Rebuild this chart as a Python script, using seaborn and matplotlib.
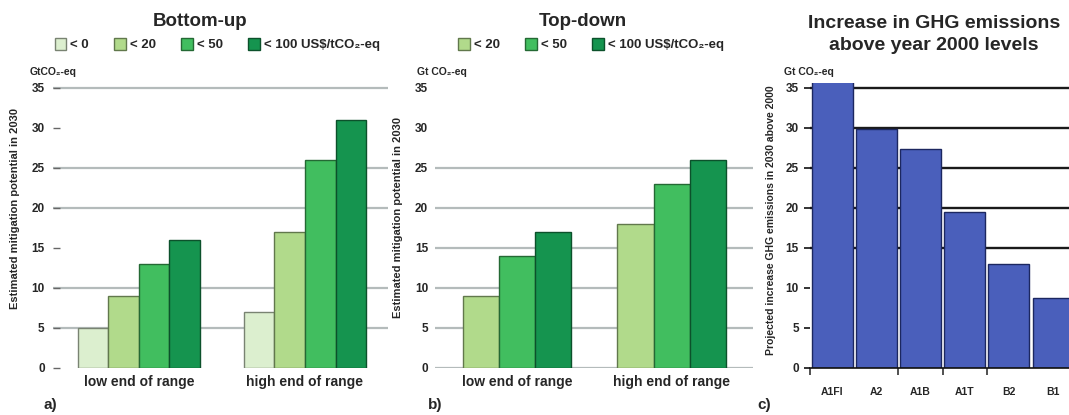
import numpy as np
import pandas as pd
import matplotlib
matplotlib.use("Agg")
import matplotlib.pyplot as plt
import matplotlib.colors as mcolors
from matplotlib.patches import Patch
import seaborn as sns

# ---------------- data ----------------
ranges = ["low end of range", "high end of range"]

bu_costs = ["< 0", "< 20", "< 50", "< 100 US$/tCO₂-eq"]
bu_low = [5, 9, 13, 16]
bu_high = [7, 17, 26, 31]

td_costs = ["< 20", "< 50", "< 100 US$/tCO₂-eq"]
td_low = [9, 14, 17]
td_high = [18, 23, 26]

scenarios = ["A1FI", "A2", "A1B", "A1T", "B2", "B1"]
increase = [36, 29.9, 27.3, 19.5, 13.0, 8.8]

yticks = [0, 5, 10, 15, 20, 25, 30, 35]

cost_colors = {"< 0": "#dcefcf", "< 20": "#b1da8b",
               "< 50": "#41be5f", "< 100 US$/tCO₂-eq": "#15944f"}
blue = "#4a5fbb"

# ---------------- style ----------------
sns.set_style("white")
plt.rcParams["font.family"] = ["Liberation Sans", "DejaVu Sans"]
plt.rcParams["font.weight"] = "bold"

W, H = 1069, 415
fig = plt.figure(figsize=(W / 100, H / 100), dpi=100)


def ax_at(x0, x1, ytop=83, ybot=368):
    return fig.add_axes([x0 / W, 1 - ybot / H, (x1 - x0) / W, (ybot - ytop) / H])


def px(x, y, s, **kw):
    fig.text(x / W, 1 - y / H, s, **kw)


def darken(c, f=0.6):
    r, g, b, a = mcolors.to_rgba(c)
    return (r * f, g * f, b * f, 1)


def style_green(ax, hide_grid):
    ax.set_ylim(0, 35.6)
    ax.set_yticks(yticks)
    ax.set_axisbelow(True)
    ax.yaxis.grid(True, color="#b4bbbb", linewidth=1.6)
    ax.xaxis.grid(False)
    for v in hide_grid:
        ax.get_ygridlines()[yticks.index(v)].set_visible(False)
    for s in ax.spines.values():
        s.set_visible(False)
    ax.tick_params(axis="y", length=5, width=1, color="#666666", pad=6,
                   labelsize=8.5, direction="in", left=True)
    ax.tick_params(axis="x", length=0, pad=5, labelsize=10)
    ax.set_xlabel("")
    ax.set_ylabel("")
    for p in ax.patches:
        p.set_edgecolor(darken(p.get_facecolor(), 0.55))
        p.set_linewidth(1.0)


def make_legend(ax, costs, anchor_x):
    handles = [Patch(facecolor=cost_colors[c], edgecolor=darken(cost_colors[c], 0.55),
                     label=c.replace("$", r"\$")) for c in costs]
    ax.legend(handles=handles, loc="center", bbox_to_anchor=(anchor_x, 1.135),
              ncol=len(costs), frameon=False, fontsize=9.5, handlelength=0.9,
              handleheight=1.0, handletextpad=0.3, columnspacing=1.9,
              borderaxespad=0)


# ---------------- panel a: bottom-up ----------------
df_a = pd.DataFrame({
    "range": np.repeat(ranges, len(bu_costs)),
    "cost": bu_costs * 2,
    "value": bu_low + bu_high,
})
ax_a = ax_at(53, 388)
sns.barplot(data=df_a, x="range", y="value", hue="cost", order=ranges,
            hue_order=bu_costs, palette=cost_colors, width=0.735,
            ax=ax_a, legend=False, saturation=1)
ax_a.set_xlim(-0.518, 1.5)
style_green(ax_a, hide_grid=[0, 15, 30])
make_legend(ax_a, bu_costs, 0.49)

# ---------------- panel b: top-down ----------------
df_b = pd.DataFrame({
    "range": np.repeat(ranges, len(td_costs)),
    "cost": td_costs * 2,
    "value": td_low + td_high,
})
ax_b = ax_at(435, 753)
sns.barplot(data=df_b, x="range", y="value", hue="cost", order=ranges,
            hue_order=td_costs, palette=cost_colors, width=0.703,
            ax=ax_b, legend=False, saturation=1)
ax_b.set_xlim(-0.529, 1.523)
style_green(ax_b, hide_grid=[30, 35])
ax_b.tick_params(axis="y", length=0, pad=5)
make_legend(ax_b, td_costs, 0.49)

# ---------------- panel c: scenarios ----------------
df_c = pd.DataFrame({"scenario": scenarios, "value": increase})
ax_c = ax_at(810, 1069)
sns.barplot(data=df_c, x="scenario", y="value", order=scenarios,
            color=blue, width=0.93, ax=ax_c, saturation=1,
            edgecolor="#1c2760", linewidth=1.0)
ax_c.set_xlim(-0.5, 5.36)
ax_c.set_ylim(0, 35.6)
ax_c.set_yticks(yticks)
ax_c.set_axisbelow(True)
ax_c.yaxis.grid(True, color="#1a1a1a", linewidth=1.7)
for v in [0, 5, 10]:
    ax_c.get_ygridlines()[yticks.index(v)].set_visible(False)
ax_c.xaxis.grid(False)
for s in ["top", "right", "left"]:
    ax_c.spines[s].set_visible(False)
ax_c.spines["bottom"].set_color("#111111")
ax_c.spines["bottom"].set_linewidth(1.2)
ax_c.tick_params(axis="y", length=4, width=1.2, color="#111111", pad=4,
                 labelsize=8.5, direction="out", left=True)
ax_c.set_xticks(range(len(scenarios)))
ax_c.set_xticklabels(scenarios)
ax_c.tick_params(axis="x", which="major", length=0, pad=14, labelsize=7.5)
ax_c.set_xticks([-0.5, 1.5, 2.5, 3.5], minor=True)
ax_c.tick_params(axis="x", which="minor", length=5, width=1.2,
                 color="#333333", direction="out", bottom=True)
ax_c.set_xlabel("")
ax_c.set_ylabel("")

# ---------------- texts ----------------
px(200, 22, "Bottom-up", ha="center", va="center", fontsize=13.5)
px(583, 22, "Top-down", ha="center", va="center", fontsize=13.5)
px(934, 24, "Increase in GHG emissions", ha="center", va="center", fontsize=14)
px(934, 46, "above year 2000 levels", ha="center", va="center", fontsize=14)

px(30, 72, "GtCO₂-eq", ha="left", va="center", fontsize=7.5)
px(417, 72, "Gt CO₂-eq", ha="left", va="center", fontsize=7.5)
px(784, 72, "Gt CO₂-eq", ha="left", va="center", fontsize=7.5)

px(15, 208, "Estimated mitigation potential in 2030", rotation=90,
   ha="center", va="center", fontsize=8)
px(398, 218, "Estimated mitigation potential in 2030", rotation=90,
   ha="center", va="center", fontsize=8)
px(771, 220, "Projected increase GHG emissions in 2030 above 2000", rotation=90,
   ha="center", va="center", fontsize=7.5)

px(43, 405, "a)", ha="left", va="center", fontsize=11)
px(428, 405, "b)", ha="left", va="center", fontsize=11)
px(757, 405, "c)", ha="left", va="center", fontsize=11)

fig.savefig("out.png", dpi=100)
